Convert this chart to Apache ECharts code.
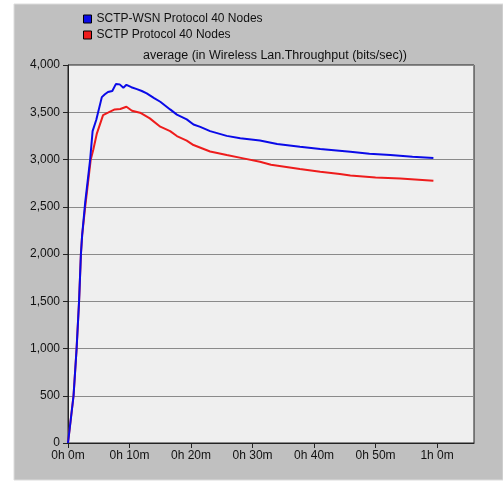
<!DOCTYPE html>
<html><head><meta charset="utf-8">
<script src="https://cdn.jsdelivr.net/npm/echarts@6/dist/echarts.min.js"></script>
<style>html,body{margin:0;padding:0;background:#fff}#c{width:503px;height:482px}</style>
</head><body><div id="c"></div>
<script>
// time in minutes, values in bits/sec
const seriesNames = ['SCTP-WSN Protocol 40 Nodes', 'SCTP Protocol 40 Nodes'];
const blueTime = [0,0.3,0.9,1.4,1.8,2.1,2.3,2.8,3.6,4.0,4.6,5.5,6.0,6.5,7.2,7.8,8.4,9.0,9.5,10.3,11.2,12.0,12.8,14.0,15.0,16.6,17.7,19.3,20.4,21.5,23.1,25.8,28.0,31.2,34.0,37.7,41.0,45.9,49.0,52.4,56.0,59.4];
const blueVal  = [0,0,500,1000,1500,2000,2200,2550,3000,3300,3420,3660,3690,3715,3725,3800,3795,3760,3790,3765,3745,3725,3700,3650,3611,3530,3475,3425,3370,3345,3300,3250,3225,3200,3165,3135,3110,3082,3062,3047,3030,3015];
const redTime  = [0,0.3,0.9,1.4,1.8,2.1,2.3,2.8,3.7,4.1,4.7,5.7,6.5,7.6,8.5,9.5,10.4,11.7,12.2,13.3,15.0,16.6,17.7,19.3,20.4,23.1,25.8,28.5,31.2,33.0,37.7,41.0,44.2,45.9,50.0,54.0,59.4];
const redVal   = [0,0,500,1000,1500,2000,2200,2500,3000,3100,3277,3470,3495,3530,3535,3558,3516,3495,3477,3435,3347,3300,3248,3200,3153,3085,3047,3012,2976,2945,2900,2870,2846,2830,2810,2800,2775];
const xTicks = [0,10,20,30,40,50,60];
const xTickLabels = ['0h 0m','0h 10m','0h 20m','0h 30m','0h 40m','0h 50m','1h 0m'];

const chart = echarts.init(document.getElementById('c'));
const font = 'Liberation Sans, Arial, sans-serif';
chart.setOption({
  animation: false,
  backgroundColor: '#fff',
  graphic: [{type:'rect', shape:{x:14,y:4,width:489,height:476}, style:{fill:'#c0c0c0', stroke:'#dcdcdc', lineWidth:1}, z:-10}],
  title: {text:'average (in Wireless Lan.Throughput (bits/sec))', left:270, textAlign:'center', top:44,
    textStyle:{fontFamily:font, fontSize:12.5, fontWeight:'normal', color:'#111'}},
  legend: {orient:'vertical', left:78, top:8, itemWidth:8, itemHeight:8, itemGap:4, icon:'rect',
    textStyle:{fontFamily:font, fontSize:12, color:'#111', padding:[0,0,0,0]},
    data: seriesNames.map(n=>({name:n, itemStyle:{borderColor:'#000', borderWidth:1}}))},
  grid: {left:68, top:65, right:29, bottom:39, show:true, backgroundColor:'#efefef', borderColor:'#222', borderWidth:1},
  xAxis: {type:'value', min:0, max:66, interval:10,
    axisLine:{onZero:false, lineStyle:{color:'#222'}},
    axisTick:{show:true, length:5, customValues:xTicks, lineStyle:{color:'#222'}},
    axisLabel:{customValues:xTicks, fontFamily:font, fontSize:12, color:'#111', margin:7,
      formatter:v=>xTickLabels[xTicks.indexOf(v)] ?? ''},
    splitLine:{show:false}},
  yAxis: {type:'value', min:0, max:4000, interval:500,
    axisLine:{show:true, lineStyle:{color:'#222'}},
    axisTick:{show:true, length:5, lineStyle:{color:'#222'}},
    axisLabel:{fontFamily:font, fontSize:12, color:'#111', margin:8,
      formatter:v=>v.toLocaleString('en-US')},
    splitLine:{show:true, lineStyle:{color:'#8a8a8a', width:1}}},
  series: [
    {name:seriesNames[0], type:'line', showSymbol:false, color:'#0a0ae8', lineStyle:{width:2, color:'#0a0ae8'},
      data: blueTime.map((t,i)=>[t, blueVal[i]]), z:3},
    {name:seriesNames[1], type:'line', showSymbol:false, color:'#ee1c1c', lineStyle:{width:2, color:'#ee1c1c'},
      data: redTime.map((t,i)=>[t, redVal[i]]), z:2}
  ]
});
</script></body></html>
